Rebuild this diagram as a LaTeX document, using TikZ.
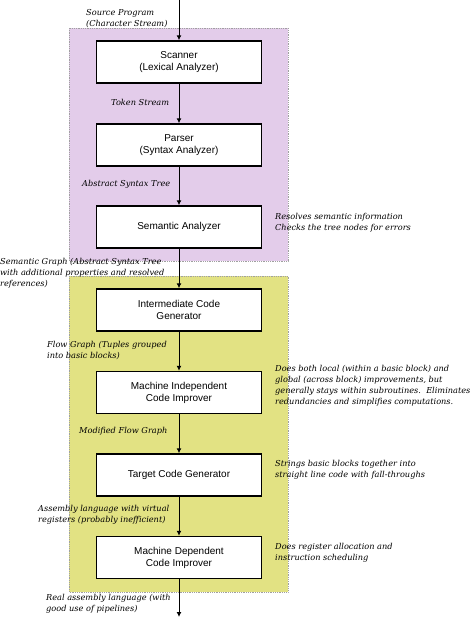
\documentclass[tikz,border=0pt]{standalone}
\usepackage{fontspec}
\setmainfont{DejaVu Serif}
\newfontfamily\boxfont{Liberation Sans}
\usetikzlibrary{positioning,arrows.meta}
\definecolor{frontpurple}{RGB}{227,204,234}
\definecolor{backyellow}{RGB}{226,226,131}
\definecolor{regionline}{RGB}{160,160,160}
\tikzset{
    phase/.style={draw, line width=1.4pt, fill=white, minimum width=165pt, minimum height=42pt,
        align=center, font=\boxfont\fontsize{10}{12}\selectfont},
    note/.style={anchor=west, align=left, inner sep=0pt, font=\itshape\fontsize{8.2}{11}\selectfont},
    flow/.style={line width=1pt, -{Latex[length=5pt,width=5pt]}},
    region/.style={draw=regionline, densely dotted, line width=0.8pt}
}
\begin{document}
\begin{tikzpicture}[x=1pt, y=-1pt]
    \useasboundingbox (0,0) rectangle (474,618);
    % the two halves of the compiler
    \draw [region, fill=frontpurple] (69,28) rectangle (288,261);
    \draw [region, fill=backyellow] (69,276) rectangle (288,592);

    \coordinate (in) at (179,0);
    \coordinate (out) at (179,617);
    \node [phase] (scanner) at (179,62) {Scanner\\(Lexical Analyzer)};
    \node [phase] (parser) at (179,145) {Parser\\(Syntax Analyzer)};
    \node [phase] (semantic) at (179,227) {Semantic Analyzer};
    \node [phase] (intermediate) at (179,310) {Intermediate Code\\Generator};
    \node [phase] (indep) at (179,392.5) {Machine Independent\\Code Improver};
    \node [phase] (target) at (179,475) {Target Code Generator};
    \node [phase] (dep) at (179,557.5) {Machine Dependent\\Code Improver};

    \draw [flow] (in) -- (scanner);
    \draw [flow] (scanner) -- (parser);
    \draw [flow] (parser) -- (semantic);
    \draw [flow] (semantic) -- (intermediate);
    \draw [flow] (intermediate) -- (indep);
    \draw [flow] (indep) -- (target);
    \draw [flow] (target) -- (dep);
    \draw [flow] (dep) -- (out);

    % what travels between the phases
    \node [note] (srclabel) at (86,19) {Source Program\\(Character Stream)};
    \node [note] (toklabel) at (111,102) {Token Stream};
    \node [note] (astlabel) at (82,184) {Abstract Syntax Tree};
    \node [note] (graphlabel) at (0,273) {Semantic Graph (Abstract Syntax Tree\\with additional properties and resolved\\references)};
    \node [note] (flowlabel) at (47,350.5) {Flow Graph (Tuples grouped\\into basic blocks)};
    \node [note] (modlabel) at (79,431) {Modified Flow Graph};
    \node [note] (asmlabel) at (38,514.5) {Assembly language with virtual\\registers (probably inefficient)};
    \node [note] (reallabel) at (46,603.5) {Real assembly language (with\\good use of pipelines)};

    % what each phase does
    \node [note] (semnote) at (275,223) {Resolves semantic information\\Checks the tree nodes for errors};
    \node [note] (indepnote) at (275,385.5) {Does both local (within a basic block) and\\global (across block) improvements, but\\generally stays within subroutines.\ \ Eliminates\\redundancies and simplifies computations.};
    \node [note] (targetnote) at (275,469.5) {Strings basic blocks together into\\straight line code with fall-throughs};
    \node [note] (depnote) at (275,552.5) {Does register allocation and\\instruction scheduling};
\end{tikzpicture}
\end{document}
